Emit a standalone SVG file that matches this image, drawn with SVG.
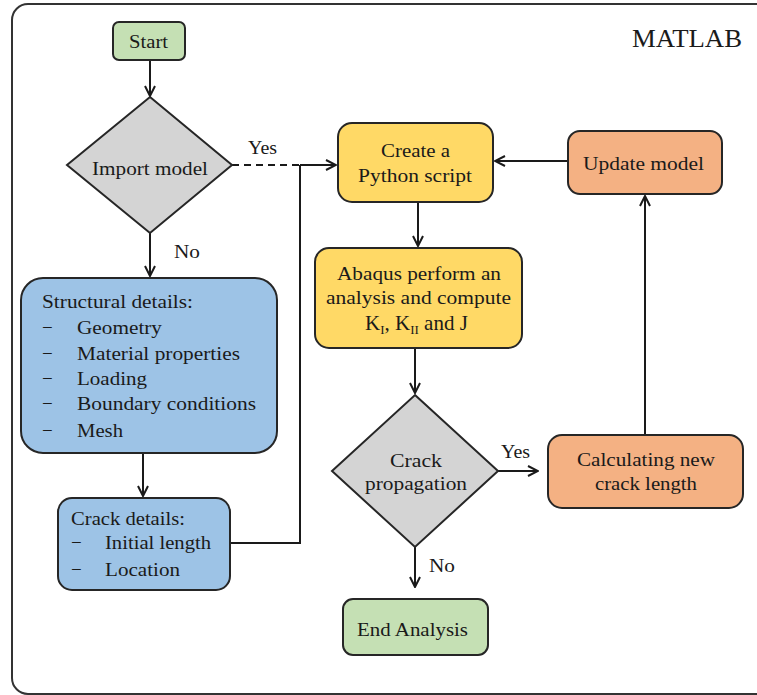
<svg xmlns="http://www.w3.org/2000/svg" width="757" height="695" viewBox="0 0 757 695">
<defs>
<style>
text{font-family:"Liberation Serif","Times New Roman",serif;font-size:19px;fill:#1a1a1a}
.c{text-anchor:middle}
.box{stroke:#262626;stroke-width:2}
.green{fill:#c5e0b4}.gray{fill:#d4d4d4}.blue{fill:#9dc3e6}.yellow{fill:#ffd966}.orange{fill:#f4b183}
.ln{fill:none;stroke:#1a1a1a;stroke-width:2}
</style>
<marker id="ah" viewBox="0 0 12 12" refX="11" refY="6" markerWidth="12" markerHeight="12" markerUnits="userSpaceOnUse" orient="auto">
<path d="M1,1 L11,6 L1,11" fill="none" stroke="#1a1a1a" stroke-width="2"/>
</marker>
</defs>
<rect width="757" height="695" fill="#fff"/>
<rect x="12" y="4" width="770" height="690" rx="16" fill="none" stroke="#333" stroke-width="2"/>
<text x="632" y="47" style="font-size:25px" textLength="110" lengthAdjust="spacingAndGlyphs">MATLAB</text>

<g id="connectors">
<line class="ln" x1="150" y1="60" x2="150" y2="96" marker-end="url(#ah)"/>
<line class="ln" x1="150" y1="233" x2="150" y2="276" marker-end="url(#ah)"/>
<line x1="232" y1="165" x2="300" y2="165" stroke="#1a1a1a" stroke-width="2" stroke-dasharray="7,5"/>
<line class="ln" x1="300" y1="165" x2="336" y2="165" marker-end="url(#ah)"/>
<polyline class="ln" points="230,543 300,543 300,165"/>
<line class="ln" x1="143" y1="453" x2="143" y2="496" marker-end="url(#ah)"/>
<line class="ln" x1="568" y1="161" x2="495" y2="161" marker-end="url(#ah)"/>
<line class="ln" x1="418" y1="202" x2="418" y2="246" marker-end="url(#ah)"/>
<line class="ln" x1="415" y1="348" x2="415" y2="393" marker-end="url(#ah)"/>
<line class="ln" x1="498" y1="471" x2="538" y2="471" marker-end="url(#ah)"/>
<line class="ln" x1="645" y1="435" x2="645" y2="196" marker-end="url(#ah)"/>
<line class="ln" x1="415" y1="547" x2="415" y2="587" marker-end="url(#ah)"/>
<text x="248" y="154" textLength="29" lengthAdjust="spacingAndGlyphs">Yes</text>
<text x="174" y="258" textLength="26" lengthAdjust="spacingAndGlyphs">No</text>
<text x="501" y="458" textLength="29" lengthAdjust="spacingAndGlyphs">Yes</text>
<text x="429" y="572" textLength="26" lengthAdjust="spacingAndGlyphs">No</text>
</g>

<g id="start">
<rect class="box green" x="113" y="22" width="72" height="38" rx="6"/>
<text x="129" y="48" textLength="39" lengthAdjust="spacingAndGlyphs">Start</text>
</g>

<g id="import-model">
<polygon class="box gray" points="150,97 232,165 150,233 67,165"/>
<text x="92" y="175" textLength="116" lengthAdjust="spacingAndGlyphs">Import model</text>
</g>

<g id="structural-details">
<rect class="box blue" x="21" y="278" width="256" height="175" rx="22"/>
<text x="42" y="308" textLength="151" lengthAdjust="spacingAndGlyphs">Structural details:</text>
<text x="42" y="334">−</text><text x="77" y="334" textLength="85" lengthAdjust="spacingAndGlyphs">Geometry</text>
<text x="42" y="360">−</text><text x="77" y="360" textLength="163" lengthAdjust="spacingAndGlyphs">Material  properties</text>
<text x="42" y="385">−</text><text x="77" y="385" textLength="70" lengthAdjust="spacingAndGlyphs">Loading</text>
<text x="42" y="410">−</text><text x="77" y="410" textLength="179" lengthAdjust="spacingAndGlyphs">Boundary conditions</text>
<text x="42" y="437">−</text><text x="77" y="437" textLength="46" lengthAdjust="spacingAndGlyphs">Mesh</text>
</g>

<g id="crack-details">
<rect class="box blue" x="58" y="498" width="172" height="92" rx="14"/>
<text x="71" y="525" textLength="114" lengthAdjust="spacingAndGlyphs">Crack details:</text>
<text x="71" y="549">−</text><text x="105" y="549" textLength="106" lengthAdjust="spacingAndGlyphs">Initial  length</text>
<text x="71" y="576">−</text><text x="105" y="576" textLength="75" lengthAdjust="spacingAndGlyphs">Location</text>
</g>

<g id="create-script">
<rect class="box yellow" x="338" y="123" width="155" height="79" rx="14"/>
<text x="381" y="157" textLength="69" lengthAdjust="spacingAndGlyphs">Create a</text>
<text x="358" y="182" textLength="114" lengthAdjust="spacingAndGlyphs">Python script</text>
</g>

<g id="update-model">
<rect class="box orange" x="568" y="131" width="154" height="63" rx="12"/>
<text x="583" y="170" textLength="121" lengthAdjust="spacingAndGlyphs">Update model</text>
</g>

<g id="abaqus">
<rect class="box yellow" x="315" y="248" width="207" height="100" rx="14"/>
<text x="337" y="280" textLength="164" lengthAdjust="spacingAndGlyphs">Abaqus perform an</text>
<text x="326" y="304" textLength="185" lengthAdjust="spacingAndGlyphs">analysis and compute</text>
<text x="365" y="330" style="font-size:21px">K<tspan dy="4" style="font-size:13px">I</tspan><tspan dy="-4">, K</tspan><tspan dy="4" style="font-size:13px">II</tspan><tspan dy="-4"> and J</tspan></text>
</g>

<g id="crack-propagation">
<polygon class="box gray" points="415,395 498,471 415,547 332,471"/>
<text x="390" y="467" textLength="52" lengthAdjust="spacingAndGlyphs">Crack</text>
<text x="365" y="490" textLength="102" lengthAdjust="spacingAndGlyphs">propagation</text>
</g>

<g id="calculating">
<rect class="box orange" x="548" y="435" width="195" height="73" rx="14"/>
<text x="577" y="466" textLength="138" lengthAdjust="spacingAndGlyphs">Calculating  new</text>
<text x="595" y="490" textLength="102" lengthAdjust="spacingAndGlyphs">crack length</text>
</g>

<g id="end-analysis">
<rect class="box green" x="343" y="599" width="145" height="56" rx="10"/>
<text x="357" y="636" textLength="111" lengthAdjust="spacingAndGlyphs">End Analysis</text>
</g>
</svg>
